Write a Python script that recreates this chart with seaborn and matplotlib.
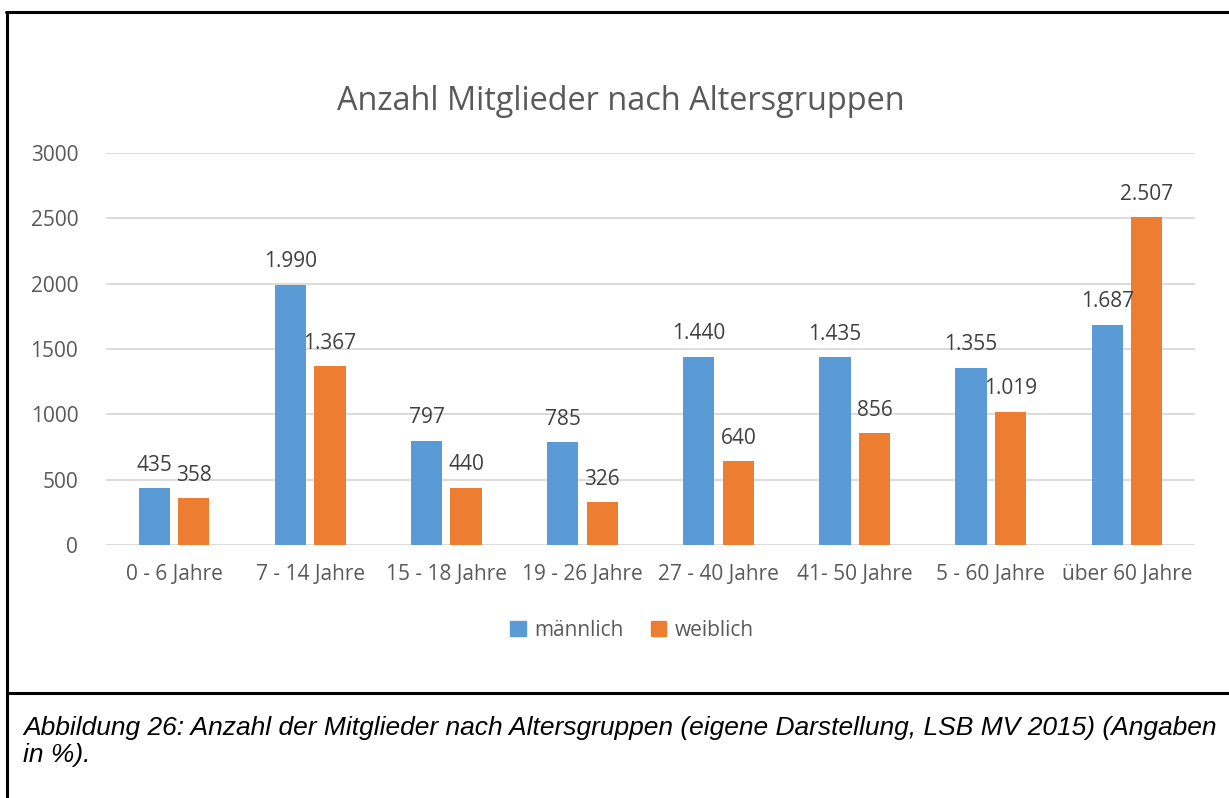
import seaborn as sns
import pandas as pd
import matplotlib.pyplot as plt
from matplotlib.lines import Line2D

gruppen = ["0 - 6 Jahre", "7 - 14 Jahre", "15 - 18 Jahre", "19 - 26 Jahre",
           "27 - 40 Jahre", "41- 50 Jahre", "5 - 60 Jahre", "über 60 Jahre"]
maennlich = [435, 1990, 797, 785, 1440, 1435, 1355, 1687]
weiblich = [358, 1367, 440, 326, 640, 856, 1019, 2507]
geschlechter = ["männlich", "weiblich"]
farben = ["#5B9BD5", "#ED7D31"]

rows = []
for g, m, w in zip(gruppen, maennlich, weiblich):
    rows.append([g, "männlich", m])
    rows.append([g, "weiblich", w])
df = pd.DataFrame(rows, columns=["gruppe", "geschlecht", "anzahl"])

sns.set_theme(style="white")
plt.rcParams['font.family'] = ['Open Sans', 'DejaVu Sans']
grau = "#595959"

W, H = 1229, 798
fig = plt.figure(figsize=(W / 100, H / 100), dpi=100)
ax = fig.add_axes([106 / W, 1 - 545 / H, (1195 - 106) / W, (545 - 153) / H])

sns.barplot(data=df, x="gruppe", y="anzahl", hue="geschlecht", hue_order=geschlechter,
            palette=farben, width=0.58, gap=0.21, linewidth=0, saturation=1,
            order=gruppen, ax=ax)

ax.set_ylim(0, 3000)
ax.set_yticks(range(0, 3001, 500))
ax.grid(axis="y", color="#D9D9D9", linewidth=1.3)
ax.set_axisbelow(True)
for s in ax.spines.values():
    s.set_visible(False)
ax.set_xlabel("")
ax.set_ylabel("")
ax.tick_params(axis="both", length=0, labelsize=15, colors=grau)
ax.tick_params(axis="y", pad=20)
ax.tick_params(axis="x", pad=14)

for cont in ax.containers:
    labs = [f"{int(b.get_height()):,}".replace(",", ".") for b in cont]
    ax.bar_label(cont, labels=labs, padding=9, fontsize=15, color="#404040")

ax.legend_.remove()
handles = [plt.Rectangle((0, 0), 1, 1, color=c) for c in farben]
fig.legend(handles, geschlechter, loc="center", bbox_to_anchor=(632 / W, 1 - 630 / H),
           ncol=2, frameon=False, fontsize=15, labelcolor=grau,
           handlelength=0.75, handleheight=0.75, handletextpad=0.4, columnspacing=1.3)

fig.text(621 / W, 1 - 110 / H, "Anzahl Mitglieder nach Altersgruppen",
         ha="center", va="baseline", fontsize=23.4, color=grau)

# Rahmen
for xs, ys in [([6, W], [12, 12]), ([7, 7], [12, H]), ([7, W], [693, 693])]:
    fig.add_artist(Line2D([x / W for x in xs], [1 - y / H for y in ys],
                          color="black", linewidth=2.2, transform=fig.transFigure))

fig.text(23 / W, 1 - 735 / H,
         "Abbildung 26: Anzahl der Mitglieder nach Altersgruppen (eigene Darstellung, LSB MV 2015) (Angaben",
         ha="left", va="baseline", fontsize=19, style="italic", family="Liberation Sans", color="black")
fig.text(23 / W, 1 - 762 / H, "in %).",
         ha="left", va="baseline", fontsize=19, style="italic", family="Liberation Sans", color="black")

fig.savefig("out.png", dpi=100)
